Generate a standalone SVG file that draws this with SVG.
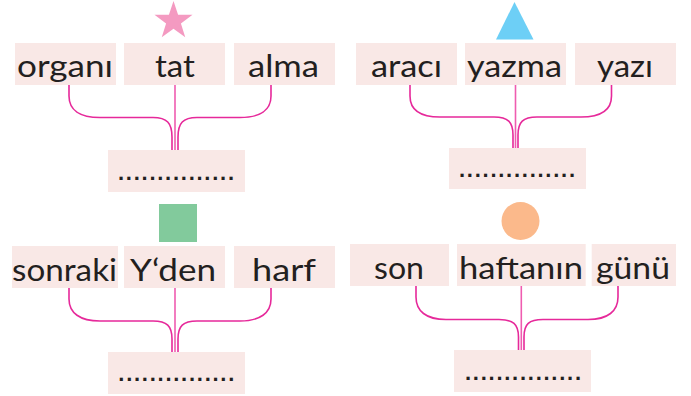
<svg xmlns="http://www.w3.org/2000/svg" width="691" height="396" viewBox="0 0 691 396">
<style>
.box{fill:#f9e8e6}
.t{font-family:Lato,"Noto Sans","DejaVu Sans",sans-serif;font-size:30px;fill:#231f20;text-anchor:middle}
.d{font-family:"Liberation Sans",Arial,sans-serif;font-size:22px;font-weight:bold;fill:#231f20;text-anchor:middle}
.c{fill:none;stroke:#e6299a;stroke-width:1.6}
.m{fill:none;stroke:#ef5cb0;stroke-width:1.6}
</style>
<rect width="691" height="396" fill="#ffffff"/>
<g id="connectors">
<path class="c" d="M69,85 V96 C69,110 80,117.5 100,117.5 H153 C167,117.5 172,123 172,137 V150"/>
<path class="c" d="M271,85 V96 C271,110 260,117.5 240,117.5 H197 C183,117.5 178,123 178,137 V150"/>
<path class="m" d="M175,85 V150"/>
<path class="c" d="M410,85 V96 C410,110 420,117 440,117 H494 C508,117 513,122 513,135 V148"/>
<path class="c" d="M611.5,85 V96 C611.5,110 601,117 581,117 H537 C523,117 518,122 518,135 V148"/>
<path class="m" d="M515.5,85 V148"/>
<path class="c" d="M69,288 V299 C69,313 80,321 100,321 H153 C167,321 172,326 172,339 V352"/>
<path class="c" d="M271,288 V299 C271,313 260,321 240,321 H197 C183,321 178,326 178,339 V352"/>
<path class="m" d="M175,288 V352"/>
<path class="c" d="M416,286 V297 C416,311 426,319.5 446,319.5 H499 C513,319.5 518.5,324 518.5,337 V350"/>
<path class="c" d="M618,286 V297 C618,311 608,319.5 588,319.5 H543 C529,319.5 524,324 524,337 V350"/>
<path class="m" d="M521.3,286 V350"/>
</g>
<g id="star"><polygon fill="#f49ac1" points="173.5,1 178.08,14.69 192.52,14.82 180.92,23.41 185.26,37.18 173.5,28.8 161.74,37.18 166.08,23.41 154.48,14.82 168.92,14.69"/></g>
<g id="triangle"><polygon fill="#6dcff6" points="514.5,2 533.5,39.5 496,39.5"/></g>
<g id="square"><rect x="159" y="204" width="38" height="38" fill="#82ca9c"/></g>
<g id="circle"><circle cx="520.5" cy="221" r="19" fill="#fbb98b"/></g>
<g id="n-organi"><rect class="box" x="15" y="43" width="101" height="42"/><text class="t" x="65" y="77" textLength="96" lengthAdjust="spacingAndGlyphs">organı</text></g>
<g id="n-tat"><rect class="box" x="124" y="43" width="101" height="42"/><text class="t" x="175" y="77" textLength="40" lengthAdjust="spacingAndGlyphs">tat</text></g>
<g id="n-alma"><rect class="box" x="234" y="43" width="101" height="42"/><text class="t" x="283.5" y="77" textLength="71" lengthAdjust="spacingAndGlyphs">alma</text></g>
<g id="n-blank1"><rect class="box" x="108" y="150" width="137" height="42"/><text class="d" x="176" y="179.5" textLength="116" lengthAdjust="spacing">...............</text></g>
<g id="n-araci"><rect class="box" x="356" y="43" width="101" height="42"/><text class="t" x="406.5" y="77" textLength="71" lengthAdjust="spacingAndGlyphs">aracı</text></g>
<g id="n-yazma"><rect class="box" x="465" y="43" width="101" height="42"/><text class="t" x="514.5" y="77" textLength="95" lengthAdjust="spacingAndGlyphs">yazma</text></g>
<g id="n-yazi"><rect class="box" x="575" y="43" width="101" height="42"/><text class="t" x="625" y="77" textLength="56" lengthAdjust="spacingAndGlyphs">yazı</text></g>
<g id="n-blank2"><rect class="box" x="449" y="148" width="137" height="41"/><text class="d" x="517" y="177" textLength="116" lengthAdjust="spacing">...............</text></g>
<g id="n-sonraki"><rect class="box" x="12" y="246" width="106" height="42"/><text class="t" x="64.5" y="281" textLength="105" lengthAdjust="spacingAndGlyphs">sonraki</text></g>
<g id="n-yden"><rect class="box" x="124" y="246" width="101" height="42"/><text class="t" x="173" y="281" textLength="86" lengthAdjust="spacingAndGlyphs">Y‘den</text></g>
<g id="n-harf"><rect class="box" x="234" y="246" width="101" height="42"/><text class="t" x="284" y="281" textLength="64" lengthAdjust="spacingAndGlyphs">harf</text></g>
<g id="n-blank3"><rect class="box" x="108" y="352" width="137" height="42"/><text class="d" x="176.3" y="380.5" textLength="116" lengthAdjust="spacing">...............</text></g>
<g id="n-son"><rect class="box" x="350" y="244" width="99" height="42"/><text class="t" x="399" y="279" textLength="50" lengthAdjust="spacingAndGlyphs">son</text></g>
<g id="n-haftanin"><rect class="box" x="457" y="244" width="128.7" height="42"/><text class="t" x="521" y="279" textLength="124" lengthAdjust="spacingAndGlyphs">haftanın</text></g>
<g id="n-gunu"><rect class="box" x="591.7" y="244" width="84.3" height="42"/><text class="t" x="633" y="279" textLength="74" lengthAdjust="spacingAndGlyphs">günü</text></g>
<g id="n-blank4"><rect class="box" x="454" y="350" width="137" height="42"/><text class="d" x="523" y="379.5" textLength="116" lengthAdjust="spacing">...............</text></g>
</svg>
